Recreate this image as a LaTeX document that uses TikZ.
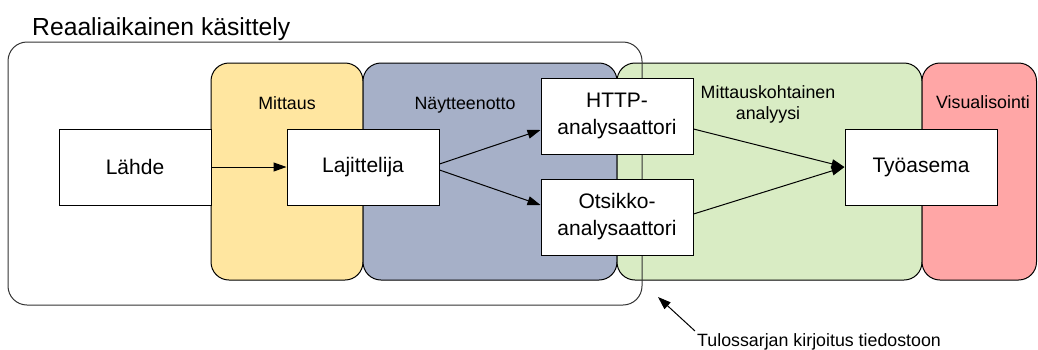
\documentclass[tikz,border=0pt]{standalone}
\usepackage{fontspec}
\setmainfont{Liberation Sans}
\usetikzlibrary{arrows.meta}

\definecolor{jaune}{RGB}{255,230,160}
\definecolor{gris}{RGB}{166,176,200}
\definecolor{vert}{RGB}{217,236,196}
\definecolor{rose}{RGB}{255,166,166}

\tikzset{
    boite/.style={draw, fill=white, line width=1pt, minimum width=152pt,
        minimum height=76pt, align=center, inner sep=0pt,
        font=\fontsize{21}{27}\selectfont},
    bande/.style={draw, line width=1pt, rounded corners=18pt},
    etiquette/.style={inner sep=0pt, align=center, font=\fontsize{17.8}{21}\selectfont},
    fleche/.style={-{Triangle[length=13pt,width=9pt]}, line width=1pt}
}

\begin{document}
\begin{tikzpicture}[x=1pt, y=-1pt]
    \useasboundingbox (0,0) rectangle (1038,349);

    % Les quatre bandes de couleur
    \draw[bande, fill=jaune] (211,63) rectangle (363,280);
    \draw[bande, fill=gris] (363,63) rectangle (617,280);
    \draw[bande, fill=vert] (617,63) rectangle (922,280);
    \draw[bande, fill=rose] (922,63) rectangle (1036.5,280);

    % Le cadre du traitement en temps reel
    \draw[line width=1pt, draw=black!80, rounded corners=19pt] (8,42) rectangle (642,305);
    \node[anchor=base west, inner sep=0pt, font=\fontsize{24.7}{30}\selectfont]
        (titre) at (32,35) {Reaaliaikainen käsittely};

    % Les noms des bandes
    \node[etiquette, anchor=base] (mittaus) at (287,109) {Mittaus};
    \node[etiquette, anchor=base] (naytteet) at (465,109) {Näytteenotto};
    \node[etiquette] (analyysi) at (768,104) {Mittauskohtainen\\analyysi};
    \node[etiquette, anchor=base] (visu) at (983,108) {Visualisointi};

    % Les boites
    \node[boite] (lahde) at (135,167) {Lähde};
    \node[boite] (laj) at (363,167) {Lajittelija};
    \node[boite] (http) at (617,116) {HTTP-\\analysaattori};
    \node[boite] (otsikko) at (617,217) {Otsikko-\\analysaattori};
    \node[boite] (tyoasema) at (921,167) {Työasema};

    % Les fleches
    \draw[fleche] (lahde.east) -- (laj.west);
    \draw[fleche] ([yshift=3pt]laj.east) -- ([yshift=-14pt]http.west);
    \draw[fleche] ([yshift=-3pt]laj.east) -- ([yshift=12pt]otsikko.west);
    \draw[fleche] ([yshift=-13pt]http.east) -- (tyoasema.west);
    \draw[fleche] ([yshift=3pt]otsikko.east) -- (tyoasema.west);

    % La sortie vers le fichier
    \coordinate (fichier) at (658,297);
    \node[etiquette, anchor=north west, inner sep=2pt] (tulos) at (695,331)
        {Tulossarjan kirjoitus tiedostoon};
    \draw[fleche] (tulos.north west) -- (fichier);
\end{tikzpicture}
\end{document}
